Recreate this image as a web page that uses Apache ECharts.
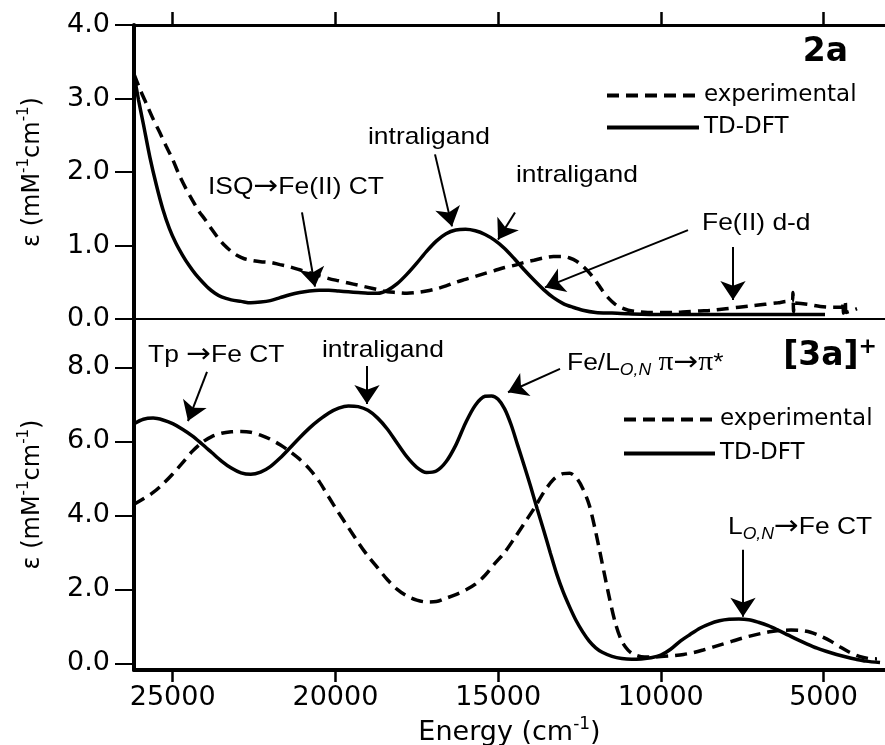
<!DOCTYPE html>
<html>
<head>
<meta charset="utf-8">
<script src="https://cdn.jsdelivr.net/npm/echarts@6/dist/echarts.min.js"></script>
<style>
html, body { margin: 0; padding: 0; background: #fff; }
#chart { width: 885px; height: 745px; }
</style>
</head>
<body>
<div id="chart"></div>
<script>
// energy in cm-1, epsilon in mM-1 cm-1
var energyTicks = [5000, 10000, 15000, 20000, 25000];
var topTicks = [0, 1, 2, 3, 4];
var bottomTicks = [0, 2, 4, 6, 8];

// 2a, experimental
var expTop = [[26189, 3.33], [26000, 3.12], [25800, 2.92], [25600, 2.72], [25400, 2.54],
    [25200, 2.35], [25000, 2.17], [24800, 1.96], [24600, 1.78], [24400, 1.62],
    [24200, 1.47], [24000, 1.35], [23800, 1.22], [23600, 1.10], [23400, 1.00],
    [23200, 0.92], [23000, 0.86], [22800, 0.82], [22600, 0.80], [22300, 0.78],
    [22000, 0.77], [21700, 0.74], [21400, 0.71], [21100, 0.67], [20800, 0.63],
    [20500, 0.59], [20200, 0.55], [19900, 0.52], [19600, 0.49], [19300, 0.46],
    [19000, 0.43], [18700, 0.40], [18400, 0.37], [18100, 0.36], [17800, 0.35],
    [17500, 0.36], [17200, 0.38], [16900, 0.41], [16600, 0.45], [16300, 0.50],
    [16000, 0.54], [15700, 0.58], [15400, 0.62], [15100, 0.66], [14800, 0.70],
    [14500, 0.73], [14200, 0.77], [13900, 0.80], [13600, 0.83], [13300, 0.85],
    [13000, 0.85], [12800, 0.83], [12600, 0.79], [12400, 0.72], [12200, 0.63],
    [12000, 0.52], [11800, 0.39], [11600, 0.28], [11400, 0.20], [11200, 0.15],
    [11000, 0.12], [10700, 0.10], [10400, 0.09], [10000, 0.09], [9600, 0.09],
    [9200, 0.10], [8800, 0.11], [8400, 0.12], [8000, 0.14], [7600, 0.16],
    [7200, 0.18], [6800, 0.20], [6400, 0.22], [6100, 0.24], [5960, 0.24],
    [5940, 0.36], [5920, 0.10], [5900, 0.22], [5500, 0.20], [5100, 0.17],
    [4700, 0.16], [4420, 0.16], [4400, 0.24], [4385, 0.08], [4330, 0.22],
    [4310, 0.09], [3971, 0.14]];
// 2a, TD-DFT
var tdTop = [[26189, 3.32], [26050, 2.98], [25900, 2.65], [25700, 2.20], [25500, 1.82],
    [25300, 1.49], [25100, 1.23], [24900, 1.03], [24700, 0.87], [24500, 0.73],
    [24300, 0.61], [24100, 0.51], [23900, 0.42], [23700, 0.35], [23500, 0.30],
    [23200, 0.26], [22900, 0.24], [22600, 0.22], [22300, 0.23], [22000, 0.25],
    [21700, 0.29], [21400, 0.33], [21100, 0.36], [20800, 0.38], [20500, 0.39],
    [20200, 0.39], [19900, 0.38], [19600, 0.37], [19300, 0.36], [19000, 0.35],
    [18700, 0.35], [18400, 0.39], [18100, 0.48], [17800, 0.61], [17500, 0.76],
    [17200, 0.92], [16900, 1.06], [16600, 1.16], [16300, 1.21], [16000, 1.22],
    [15700, 1.20], [15400, 1.15], [15100, 1.07], [14800, 0.96], [14500, 0.82],
    [14200, 0.67], [13900, 0.53], [13600, 0.40], [13300, 0.29], [13000, 0.21],
    [12700, 0.16], [12400, 0.12], [12000, 0.09], [11500, 0.08], [11000, 0.07],
    [10000, 0.06], [8000, 0.06], [6000, 0.06], [4955, 0.06]];
// [3a]+, experimental
var expBot = [[26189, 4.30], [25900, 4.45], [25600, 4.62], [25300, 4.85], [25000, 5.12],
    [24700, 5.42], [24400, 5.73], [24100, 5.97], [23800, 6.13], [23500, 6.22],
    [23200, 6.26], [22900, 6.27], [22600, 6.25], [22300, 6.17], [22000, 6.06],
    [21700, 5.91], [21400, 5.73], [21100, 5.52], [20800, 5.26], [20500, 4.92],
    [20200, 4.49], [19900, 4.07], [19600, 3.67], [19300, 3.27], [19000, 2.90],
    [18700, 2.58], [18400, 2.26], [18100, 2.00], [17800, 1.82], [17500, 1.71],
    [17200, 1.66], [16900, 1.67], [16600, 1.76], [16300, 1.86], [16000, 1.98],
    [15700, 2.14], [15400, 2.38], [15100, 2.70], [14800, 3.00], [14500, 3.38],
    [14200, 3.78], [13900, 4.18], [13600, 4.62], [13300, 4.97], [13000, 5.13],
    [12800, 5.14], [12600, 5.02], [12400, 4.73], [12200, 4.28], [12000, 3.55],
    [11800, 2.70], [11600, 1.85], [11400, 1.10], [11200, 0.60], [11000, 0.35],
    [10800, 0.23], [10500, 0.17], [10200, 0.17], [9900, 0.19], [9600, 0.21],
    [9300, 0.24], [9000, 0.29], [8700, 0.36], [8400, 0.44], [8100, 0.52],
    [7800, 0.60], [7500, 0.68], [7200, 0.75], [6900, 0.81], [6600, 0.86],
    [6300, 0.89], [6000, 0.90], [5700, 0.89], [5400, 0.84], [5100, 0.74],
    [4800, 0.61], [4500, 0.45], [4200, 0.30], [3900, 0.19], [3600, 0.13],
    [3357, 0.12]];
// [3a]+, TD-DFT
var tdBot = [[26189, 6.48], [25900, 6.60], [25600, 6.63], [25300, 6.58], [25000, 6.48],
    [24700, 6.33], [24400, 6.15], [24100, 5.93], [23800, 5.70], [23500, 5.47],
    [23200, 5.28], [22900, 5.15], [22600, 5.11], [22300, 5.17], [22000, 5.32],
    [21700, 5.55], [21400, 5.82], [21100, 6.10], [20800, 6.36], [20500, 6.58],
    [20200, 6.77], [19900, 6.90], [19600, 6.96], [19300, 6.94], [19000, 6.84],
    [18700, 6.63], [18400, 6.33], [18100, 5.95], [17800, 5.58], [17500, 5.30],
    [17200, 5.16], [16900, 5.20], [16600, 5.45], [16300, 5.90], [16000, 6.50],
    [15700, 6.98], [15400, 7.22], [15200, 7.23], [15000, 7.14], [14800, 6.88],
    [14600, 6.45], [14400, 5.90], [14200, 5.35], [14000, 4.78], [13800, 4.18],
    [13600, 3.60], [13400, 3.00], [13200, 2.42], [13000, 1.93], [12800, 1.52],
    [12600, 1.15], [12400, 0.85], [12200, 0.60], [12000, 0.42], [11800, 0.30],
    [11500, 0.19], [11200, 0.13], [10900, 0.11], [10600, 0.12], [10300, 0.15],
    [10000, 0.22], [9700, 0.38], [9400, 0.60], [9100, 0.78], [8800, 0.95],
    [8500, 1.07], [8200, 1.15], [7900, 1.19], [7600, 1.20], [7300, 1.18],
    [7000, 1.11], [6700, 1.02], [6400, 0.90], [6100, 0.77], [5800, 0.64],
    [5500, 0.52], [5200, 0.41], [4900, 0.32], [4600, 0.24], [4300, 0.17],
    [4000, 0.11], [3700, 0.06], [3264, 0.02]];

// annotation arrows, [from, to] in data units
var arrowsTop = [
    [[21027, 1.45], [20627, 0.44]],
    [[16939, 2.24], [16417, 1.26]],
    [[14481, 1.45], [15003, 1.08]],
    [[9165, 1.21], [13559, 0.43]],
    [[7782, 0.98], [7782, 0.26]]
];
var arrowsBot = [
    [[23946, 7.88], [24530, 6.55]],
    [[19029, 8.04], [19029, 7.01]],
    [[13098, 7.96], [14696, 7.33]],
    [[7475, 3.07], [7475, 1.26]]
];

var FONT = 'DejaVu Sans';
var ANN = 'Liberation Sans';
var eMin = 3111, eMax = 26189;

function arrowLines(list) {
    return list.map(function (a) {
        return [{ coord: a[0] }, { coord: a[1] }];
    });
}

var arrowStyle = {
    silent: true,
    symbol: ['none', 'arrow'],
    symbolSize: 19,
    label: { show: false },
    lineStyle: { color: '#000', width: 2, type: 'solid' },
    emphasis: { disabled: true },
    animation: false
};

function lineSeries(name, data, xi, yi, dashed, arrows) {
    var s = {
        name: name,
        type: 'line',
        xAxisIndex: xi,
        yAxisIndex: yi,
        data: data,
        symbol: 'none',
        smooth: 0.3,
        clip: true,
        lineStyle: { color: '#000', width: 3.5, type: dashed ? [12, 7] : 'solid' },
        itemStyle: { color: '#000' }
    };
    if (arrows) {
        s.markLine = Object.assign({ data: arrowLines(arrows) }, arrowStyle);
    }
    return s;
}

var rich = {
    m: { fontFamily: ANN, fontSize: 24, color: '#000', lineHeight: 32, verticalAlign: 'middle' },
    a: { fontFamily: FONT, fontSize: 27, color: '#000', lineHeight: 32, verticalAlign: 'middle' },
    s: { fontFamily: ANN, fontSize: 16, fontStyle: 'italic', color: '#000', lineHeight: 14, verticalAlign: 'bottom' },
    p: { fontFamily: 'Liberation Serif', fontSize: 27, color: '#000', lineHeight: 32, verticalAlign: 'middle' },
    b: { fontFamily: FONT, fontSize: 33, fontWeight: 'bold', color: '#000', lineHeight: 40, verticalAlign: 'middle' },
    bs: { fontFamily: FONT, fontSize: 22, fontWeight: 'bold', color: '#000', lineHeight: 20, verticalAlign: 'top' }
};

function label(text, x, y, align, sx) {
    return {
        type: 'text',
        x: x,
        y: y,
        scaleX: sx || 1.1,
        silent: true,
        style: {
            text: text,
            rich: rich,
            align: align || 'left',
            verticalAlign: 'middle',
            textAlign: align || 'left',
            textVerticalAlign: 'middle',
            fill: '#000'
        }
    };
}

var axisName = {
    fontFamily: FONT, fontSize: 24, color: '#000', lineHeight: 32,
    rich: { sup: { fontFamily: FONT, fontSize: 15, color: '#000', lineHeight: 14, verticalAlign: 'top' } }
};
var xName = {
    fontFamily: FONT, fontSize: 27, color: '#000', lineHeight: 34,
    rich: { sup: { fontFamily: FONT, fontSize: 17, color: '#000', lineHeight: 15, verticalAlign: 'top' } }
};
var legendText = { color: '#000', fontFamily: FONT, fontSize: 23 };

function fmt1(v) { return v.toFixed(1); }

var myChart = echarts.init(document.getElementById('chart'), null, { renderer: 'canvas' });
var option = {
    animation: false,
    backgroundColor: '#fff',
    grid: [
        { left: 134, right: 0, top: 25, height: 294, outerBoundsMode: 'none', containLabel: false },
        { left: 134, right: 0, top: 319, height: 351, outerBoundsMode: 'none', containLabel: false }
    ],
    xAxis: [
        {
            gridIndex: 0, type: 'value', inverse: true, min: eMin, max: eMax, position: 'top',
            axisLine: { onZero: false, lineStyle: { color: '#000', width: 3 } },
            axisTick: { customValues: energyTicks, length: 13, lineStyle: { color: '#000', width: 2.5 } },
            axisLabel: { show: false },
            splitLine: { show: false }
        },
        {
            gridIndex: 1, type: 'value', inverse: true, min: eMin, max: eMax, position: 'bottom',
            axisLine: { onZero: false, lineStyle: { color: '#000', width: 4 } },
            axisTick: { customValues: energyTicks, length: 12, lineStyle: { color: '#000', width: 2.5 } },
            axisLabel: {
                customValues: energyTicks, color: '#000', fontFamily: FONT, fontSize: 27, margin: 14,
                formatter: function (v) { return String(v); }
            },
            splitLine: { show: false },
            name: 'Energy (cm{sup|-1})',
            nameLocation: 'middle',
            nameGap: 46,
            nameTextStyle: xName
        },
        {
            gridIndex: 0, type: 'value', inverse: true, min: eMin, max: eMax, position: 'bottom',
            axisLine: { onZero: false, lineStyle: { color: '#000', width: 2 } },
            axisTick: { show: false },
            axisLabel: { show: false },
            splitLine: { show: false }
        }
    ],
    yAxis: [
        {
            gridIndex: 0, type: 'value', min: 0, max: 4, interval: 1,
            axisLine: { show: true, onZero: false, lineStyle: { color: '#000', width: 4 } },
            axisTick: { show: true, length: 19, lineStyle: { color: '#000', width: 2 } },
            axisLabel: { color: '#000', fontFamily: FONT, fontSize: 27, margin: 24, formatter: fmt1 },
            splitLine: { show: false },
            name: 'ε (mM{sup|-1}cm{sup|-1})',
            nameLocation: 'middle',
            nameRotate: 90,
            nameGap: 85,
            nameTextStyle: axisName
        },
        {
            gridIndex: 1, type: 'value', min: -0.18, max: 9.31,
            axisLine: { show: true, onZero: false, lineStyle: { color: '#000', width: 4 } },
            axisTick: { show: true, customValues: bottomTicks, length: 19, lineStyle: { color: '#000', width: 2 } },
            axisLabel: {
                customValues: bottomTicks, color: '#000', fontFamily: FONT, fontSize: 27, margin: 24,
                formatter: fmt1
            },
            splitLine: { show: false },
            name: 'ε (mM{sup|-1}cm{sup|-1})',
            nameLocation: 'middle',
            nameRotate: 90,
            nameGap: 85,
            nameTextStyle: axisName
        }
    ],
    legend: [
        {
            data: ['experimental', 'TD-DFT'], orient: 'vertical', left: 600, top: 79,
            itemWidth: 92, itemHeight: 14, itemGap: 9, selectedMode: false,
            lineStyle: { width: 4 },
            itemStyle: { opacity: 0 },
            textStyle: legendText
        },
        {
            data: ['experimental', 'TD-DFT'], orient: 'vertical', left: 617, top: 403,
            itemWidth: 91, itemHeight: 14, itemGap: 11, selectedMode: false,
            lineStyle: { width: 4 },
            itemStyle: { opacity: 0 },
            textStyle: legendText
        }
    ],
    graphic: [
        label('{b|2a}', 848, 52, 'right', 1),
        label('{m|ISQ}{a|→}{m|Fe(II) CT}', 208, 187),
        label('{m|intraligand}', 368, 137),
        label('{m|intraligand}', 516, 175),
        label('{m|Fe(II) d-d}', 702, 223),
        label('{b|[3a]}{bs|+}', 877, 356, 'right', 1),
        label('{m|Tp }{a|→}{m|Fe CT}', 148, 355),
        label('{m|intraligand}', 322, 350),
        label('{m|Fe/L}{s|O,N}{m| }{p|π}{a|→}{p|π}{m|*}', 567, 363),
        label('{m|L}{s|O,N}{a|→}{m|Fe CT}', 728, 527)
    ],
    series: [
        lineSeries('experimental', expTop, 0, 0, true),
        lineSeries('TD-DFT', tdTop, 0, 0, false, arrowsTop),
        lineSeries('experimental', expBot, 1, 1, true),
        lineSeries('TD-DFT', tdBot, 1, 1, false, arrowsBot)
    ]
};
myChart.setOption(option);
</script>
</body>
</html>
